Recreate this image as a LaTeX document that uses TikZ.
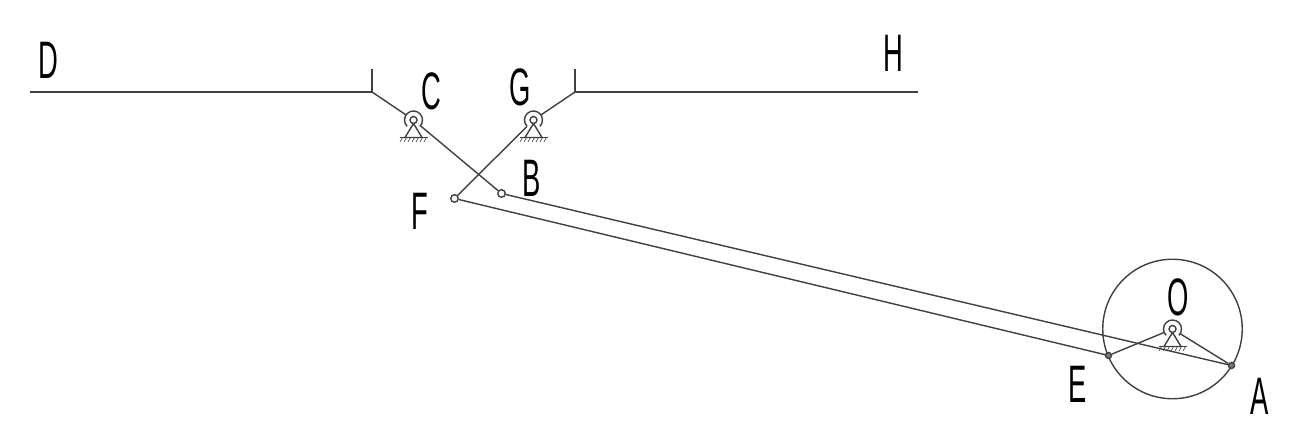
\documentclass[tikz,border=0pt]{standalone}
\usepackage{fontspec}
\setmainfont{Liberation Sans}
\usepackage{tikz}
\usetikzlibrary{positioning,calc}

\definecolor{linegray}{gray}{0.25}
\tikzset{
    link/.style={draw=linegray, line width=0.8pt},
    joint/.style={draw=linegray, line width=0.8pt, circle, fill=white, inner sep=0pt, minimum size=0.15cm},
    crank/.style={draw=linegray, line width=0.8pt, circle, fill=linegray!70, inner sep=0pt, minimum size=0.12cm},
    bearing/.style={circle, inner sep=0pt, minimum size=0.36cm},
    letter/.style={font=\fontsize{30}{31}\selectfont, xscale=0.52, transform shape, inner sep=0pt, text=black},
    pics/support/.style={code={
        \draw[link] (0,-0.07) -- (-0.17,-0.35) -- (0.17,-0.35) -- cycle;
        \draw[link] (-0.28,-0.35) -- (0.28,-0.35);
        \foreach \x in {-0.24,-0.16,-0.08,0,0.08,0.16,0.24}
            \draw[linegray, line width=0.35pt] (\x+0.02,-0.35) -- (\x-0.03,-0.44);
        \draw[link] (-45:0.18) arc[start angle=-45, end angle=225, radius=0.18];
        \draw[link, fill=white] (0,0) circle (0.07);
    }}
}

\begin{document}
\begin{tikzpicture}
    \useasboundingbox (0,0) rectangle (26,8.7);

    % Ground lines
    \coordinate (d) at (0.6,6.86);
    \coordinate (cupl) at (7.44,6.86);
    \coordinate (cuplt) at (7.44,7.32);
    \coordinate (cupr) at (11.5,6.86);
    \coordinate (cuprt) at (11.5,7.32);
    \coordinate (h) at (18.36,6.86);
    \draw[link] (d) -- (cupl) -- (cuplt);
    \draw[link] (h) -- (cupr) -- (cuprt);

    % Wheel
    \node[draw=linegray, line width=0.8pt, circle, inner sep=0pt, minimum size=2.79cm] (wheel) at (23.45,2.12) {};

    % Pivots
    \pic at (8.27,6.3) {support};
    \pic at (10.67,6.3) {support};
    \pic at (23.45,2.12) {support};
    \node[bearing] (c) at (8.27,6.3) {};
    \node[bearing] (g) at (10.67,6.3) {};
    \node[bearing] (o) at (23.45,2.12) {};

    % Joints
    \node[joint] (b) at (10.03,4.83) {};
    \node[joint] (f) at (9.09,4.73) {};
    \node[crank] (e) at (22.17,1.59) {};
    \node[crank] (a) at (24.63,1.39) {};

    % Links
    \draw[link] (cupl) -- (c);
    \draw[link] (cupr) -- (g);
    \draw[link] (c) -- (b);
    \draw[link] (g) -- (f);
    \draw[link] (b) -- (a);
    \draw[link] (f) -- (e);
    \draw[link] (o) -- (e);
    \draw[link] (o) -- (a);

    % Labels
    \node[letter] (ld) at (0.96,7.5) {D};
    \node[letter] (lh) at (17.86,7.64) {H};
    \node[letter] (lc) at (8.62,6.88) {C};
    \node[letter] (lg) at (10.4,6.96) {G};
    \node[letter] (lb) at (10.64,5.14) {B};
    \node[letter] (lf) at (8.4,4.48) {F};
    \node[letter] (lo) at (23.56,2.76) {O};
    \node[letter] (le) at (21.56,1.02) {E};
    \node[letter] (la) at (25.2,0.78) {A};
\end{tikzpicture}
\end{document}
